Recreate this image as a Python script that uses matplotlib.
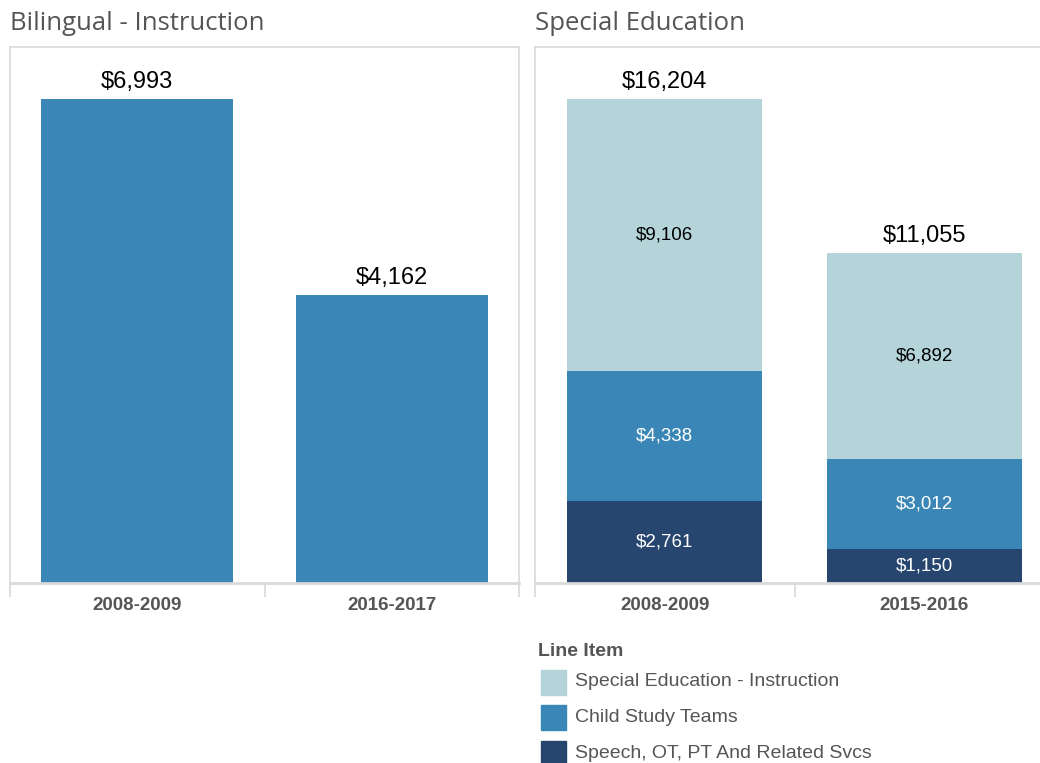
import matplotlib.pyplot as plt
from matplotlib.patches import Rectangle

# data
bil_years = ["2008-2009", "2016-2017"]
bil_values = [6993, 4162]

sped_years = ["2008-2009", "2015-2016"]
sped_items = ["Special Education - Instruction", "Child Study Teams", "Speech, OT, PT And Related Svcs"]
sped_instruction = [9106, 6892]
sped_cst = [4338, 3012]
sped_speech = [2761, 1150]
sped_totals = [16204, 11055]

c_light = "#b4d4da"
c_mid = "#3a87b7"
c_dark = "#26466f"
grey_txt = "#555555"
frame = "#d9d9d9"

plt.rcParams['font.family'] = ['Liberation Sans', 'DejaVu Sans']

W, H = 1040, 763
fig = plt.figure(figsize=(W / 100, H / 100), dpi=100)


def px_axes(x0, y0, x1, y1):
    return fig.add_axes([x0 / W, (H - y1) / H, (x1 - x0) / W, (y1 - y0) / H])


def style(ax, labels):
    ax.set_xlim(-0.5, 1.5)
    for s in ax.spines.values():
        s.set_color(frame)
        s.set_linewidth(1.2)
    ax.spines['bottom'].set_linewidth(2)
    ax.set_yticks([])
    ax.set_xticks([0, 1])
    ax.set_xticklabels(labels, fontsize=13.5, fontweight='bold', color=grey_txt)
    ax.tick_params(axis='x', which='major', length=0, pad=10)
    ax.set_xticks([-0.5, 0.5, 1.5], minor=True)
    ax.tick_params(axis='x', which='minor', length=10, color=frame, width=1.2)


# Bilingual panel
ax1 = px_axes(10, 47, 519, 583)
x = [0, 1]
ax1.bar(x, bil_values, width=0.755, color=c_mid)
ax1.set_ylim(0, 6993 * 536 / 484)
for xi, v in zip(x, bil_values):
    ax1.text(xi, v + 80, f"${v:,}", ha='center', va='bottom', fontsize=17, color='black')
style(ax1, bil_years)
fig.text(10 / W, 1 - 23 / H, "Bilingual - Instruction", fontsize=18.5, color=grey_txt,
         family=['Open Sans', 'DejaVu Sans'], va='center', ha='left')

# Special education panel
ax2 = px_axes(535, 47, 1054, 583)
ax2.set_ylim(0, 16204 * 536 / 484)
bottom = [0, 0]
for vals, col, tc in [(sped_speech, c_dark, 'white'), (sped_cst, c_mid, 'white'),
                      (sped_instruction, c_light, 'black')]:
    ax2.bar(x, vals, width=0.75, bottom=bottom, color=col)
    for xi, v, b in zip(x, vals, bottom):
        ax2.text(xi, b + v / 2, f"${v:,}", ha='center', va='center', fontsize=13.5, color=tc)
    bottom = [b + v for b, v in zip(bottom, vals)]
for xi, t in zip(x, sped_totals):
    ax2.text(xi, t + 190, f"${t:,}", ha='center', va='bottom', fontsize=17, color='black')
style(ax2, sped_years)
fig.text(535 / W, 1 - 23 / H, "Special Education", fontsize=18.5, color=grey_txt,
         family=['Open Sans', 'DejaVu Sans'], va='center', ha='left')

# legend
fig.text(538 / W, 1 - 652 / H, "Line Item", fontsize=14, fontweight='bold',
         color=grey_txt, va='center', ha='left')
for i, (name, col) in enumerate(zip(sped_items, [c_light, c_mid, c_dark])):
    yc = 682 + i * 35.5
    fig.patches.append(Rectangle((541 / W, 1 - (yc + 12.5) / H), 25 / W, 25 / H,
                                 transform=fig.transFigure, color=col))
    fig.text(575 / W, 1 - yc / H, name, fontsize=14, color=grey_txt, va='center', ha='left')

fig.savefig("out.png", dpi=100)
